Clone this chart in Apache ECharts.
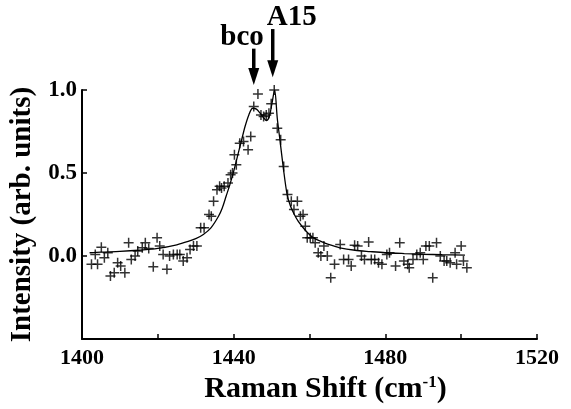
<!DOCTYPE html>
<html>
<head>
<meta charset="utf-8">
<script src="https://cdn.jsdelivr.net/npm/echarts@6/dist/echarts.min.js"></script>
<style>
html,body{margin:0;padding:0;background:#fff;}
#chart{width:571px;height:409px;}
</style>
</head>
<body>
<div id="chart"></div>
<script>
// Measured data points (Raman shift, intensity)
const pointX = [1402.5,1403.5,1404.1,1405.1,1405.9,1406.8,1407.5,1408.5,1409.4,1410.2,1411.3,1412.3,1413.0,1414.0,1414.7,1415.9,1416.7,1417.6,1418.8,1419.8,1420.5,1421.4,1422.4,1423.1,1424.1,1425.1,1425.8,1426.7,1427.7,1428.5,1429.4,1430.3,1431.3,1432.2,1433.5,1434.1,1434.7,1435.6,1436.3,1436.8,1437.5,1438.5,1439.2,1439.7,1440.2,1440.7,1441.6,1442.6,1443.8,1444.5,1445.3,1446.4,1447.2,1447.9,1448.6,1449.3,1449.9,1450.7,1451.5,1452.4,1453.2,1454.2,1455.2,1455.9,1456.8,1457.6,1458.3,1458.9,1459.4,1460.2,1460.9,1461.5,1462.3,1463.0,1463.8,1464.7,1465.6,1466.6,1468.1,1469.0,1470.3,1471.0,1471.9,1472.7,1473.7,1474.5,1475.6,1476.3,1477.2,1478.2,1479.1,1480.4,1481.1,1482.7,1483.8,1484.9,1485.9,1486.3,1487.3,1488.3,1489.2,1490.0,1490.7,1491.6,1492.5,1493.5,1494.5,1495.5,1496.2,1497.1,1498.4,1498.8,1500.0,1500.6,1501.5];
const pointY = [-0.05,0.01,-0.05,0.053,-0.01,0.02,-0.12,-0.10,-0.04,-0.06,-0.10,0.08,-0.02,0.0,0.03,0.05,0.08,0.045,-0.065,0.11,0.06,0.01,-0.08,0.0,0.01,0.01,0.01,-0.03,-0.01,0.04,0.06,0.06,0.17,0.17,0.25,0.24,0.33,0.40,0.42,0.41,0.42,0.44,0.49,0.50,0.61,0.55,0.68,0.69,0.64,0.72,0.90,0.976,0.85,0.84,0.85,0.86,0.917,1.0,0.77,0.70,0.54,0.37,0.33,0.28,0.33,0.24,0.25,0.18,0.11,0.11,0.11,0.08,0.02,0.0,0.06,0.0,-0.13,-0.05,0.07,-0.02,-0.02,-0.06,0.065,0.06,0.0,-0.02,0.085,-0.02,-0.02,-0.04,-0.05,0.01,0.02,-0.06,0.08,-0.03,-0.05,-0.07,-0.02,0.01,0.02,-0.02,0.06,0.06,-0.13,0.08,0.0,-0.03,-0.03,-0.04,0.02,-0.05,0.06,-0.03,-0.07];

// Fitted curve
const fitX = [1402,1405,1410,1415,1420,1425,1428,1430,1432,1434,1436,1437,1438,1439,1440,1441,1442,1443,1444,1445,1446,1447,1448,1448.6,1449.4,1450.1,1450.8,1451.5,1452.2,1453.1,1454.1,1455,1456,1457,1458,1459.5,1461,1463,1465,1468,1472,1476,1480,1485,1490,1495,1501];
const fitY = [0.02,0.024,0.028,0.035,0.046,0.068,0.088,0.105,0.13,0.17,0.24,0.29,0.36,0.43,0.51,0.6,0.69,0.78,0.85,0.89,0.885,0.86,0.83,0.815,0.84,0.92,1.0,0.83,0.70,0.53,0.37,0.30,0.25,0.21,0.18,0.14,0.11,0.088,0.07,0.05,0.035,0.027,0.02,0.015,0.011,0.008,0.006];

// Axis ticks
const xTicksLabeled = [1400,1440,1480,1520];
const yTicksLabeled = [0.0,0.5,1.0];

// Annotations: label, x position, arrow tip value, arrow tail value
const annotLabels = ['bco','A15'];
const annotX = [1445.3,1450.3];
const annotTip = [1.03,1.077];
const annotTail = [1.249,1.367];

const FONT = '"Liberation Serif","Times New Roman",serif';
const chart = echarts.init(document.getElementById('chart'), null, {renderer:'canvas'});

const scatterData = pointX.map((x,i)=>[x,pointY[i]]);
const fitData = fitX.map((x,i)=>[x,fitY[i]]);

chart.setOption({
  animation:false,
  backgroundColor:'#fff',
  grid:{left:82,right:34,top:90,bottom:65,containLabel:false},
  xAxis:{
    type:'value',min:1400,max:1520,interval:20,
    name:'Raman Shift (cm{sup|-1})',
    nameLocation:'middle',nameGap:29,
    nameTextStyle:{fontFamily:FONT,fontWeight:'bold',fontSize:30,color:'#000',padding:[0,0,0,32],
      rich:{sup:{fontFamily:FONT,fontWeight:'bold',fontSize:17,color:'#000',verticalAlign:'top',padding:[0,0,12,0]}}},
    axisLine:{onZero:false,lineStyle:{color:'#000',width:2}},
    axisTick:{inside:true,length:5,lineStyle:{color:'#000',width:1.5}},
    axisLabel:{fontFamily:FONT,fontWeight:'bold',fontSize:22,color:'#000',margin:8,
      formatter:v=>xTicksLabeled.includes(v)?String(v):''},
    splitLine:{show:false}
  },
  yAxis:{
    type:'value',min:-0.5,max:1.0,interval:0.5,
    name:'Intensity (arb. units)',
    nameLocation:'middle',nameGap:41,nameRotate:90,
    nameTextStyle:{fontFamily:FONT,fontWeight:'bold',fontSize:29,color:'#000'},
    axisLine:{onZero:false,lineStyle:{color:'#000',width:2}},
    axisTick:{inside:true,length:5,lineStyle:{color:'#000',width:1.5}},
    axisLabel:{fontFamily:FONT,fontWeight:'bold',fontSize:23,color:'#000',margin:5,
      formatter:v=>yTicksLabeled.some(t=>Math.abs(t-v)<1e-9)?v.toFixed(1):''},
    splitLine:{show:false}
  },
  series:[
    {
      type:'line',data:fitData,showSymbol:false,symbol:'none',smooth:0.3,
      lineStyle:{color:'#000',width:1.3},z:2
    },
    {
      type:'scatter',data:scatterData,
      symbol:'path://M5,0L5,10M0,5L10,5',symbolSize:10,
      itemStyle:{color:'#000',borderColor:'#000',borderWidth:1.5},z:3
    }
  ]
});

// Arrow annotations positioned through the axes
const graphics = [];
annotLabels.forEach((lab,i)=>{
  const tip = chart.convertToPixel({gridIndex:0},[annotX[i],annotTip[i]]);
  const tail = chart.convertToPixel({gridIndex:0},[annotX[i],annotTail[i]]);
  const headLen = 17, headW = 5.5;
  graphics.push({type:'line',shape:{x1:tail[0],y1:tail[1],x2:tip[0],y2:tip[1]-headLen+2},
    style:{stroke:'#000',lineWidth:3.5}});
  graphics.push({type:'polygon',shape:{points:[[tip[0]-headW,tip[1]-headLen],[tip[0]+headW,tip[1]-headLen],[tip[0],tip[1]]]},
    style:{fill:'#000'}});
  const isLeft = i===0;
  graphics.push({type:'text',
    x: isLeft ? tail[0]+10 : tail[0]-6,
    y: tail[1]+3,
    style:{text:lab,fill:'#000',font:'bold 29px '+FONT,
      textAlign: isLeft?'right':'left',textVerticalAlign:'bottom'}});
});
chart.setOption({graphic:graphics});
</script>
</body>
</html>
